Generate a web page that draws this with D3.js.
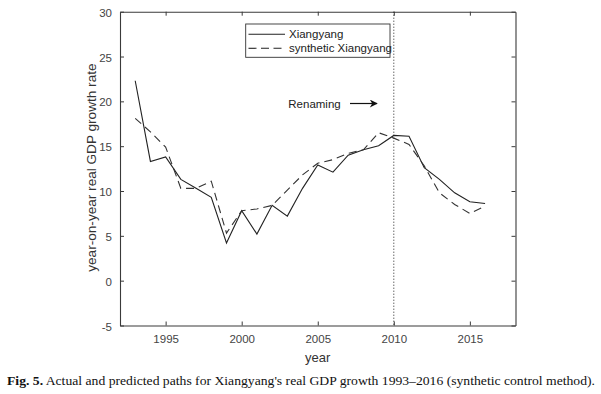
<!DOCTYPE html>
<html><head><meta charset="utf-8">
<script src="https://cdn.jsdelivr.net/npm/d3@7"></script>
<style>body{margin:0;background:#fff}svg{display:block}</style>
</head><body>
<svg id="c" width="601" height="394"></svg>
<script>
const years = [1993,1994,1995,1996,1997,1998,1999,2000,2001,2002,2003,2004,2005,2006,2007,2008,2009,2010,2011,2012,2013,2014,2015,2016];
const actual = [22.3,13.3,13.8,11.3,10.3,9.3,4.2,7.8,5.2,8.4,7.2,10.3,12.9,12.1,14.0,14.6,15.05,16.2,16.1,12.6,11.3,9.8,8.8,8.6];
const synthetic = [18.1,16.6,14.9,10.3,10.3,11.1,5.3,7.8,8.0,8.4,10.1,11.8,13.1,13.5,14.2,14.6,16.5,15.9,15.2,12.8,9.8,8.5,7.5,8.3];
const xTicks = [1995,2000,2005,2010,2015];
const yTicks = [-5,0,5,10,15,20,25,30];
const seriesNames = ["Xiangyang","synthetic Xiangyang"];
const treatYear = 2010;

const svg = d3.select("#c");
const L=120, R=515.5, T=11.7, B=325.5;
const x = d3.scaleLinear().domain([1992,2018]).range([L,R]);
const y = d3.scaleLinear().domain([-5,30]).range([B,T]);
const axisCol = "#3a3a3a", font = "Liberation Sans, Arial, sans-serif";

// axes (box with inward ticks)
const gB = svg.append("g").attr("transform",`translate(0,${B})`)
  .call(d3.axisBottom(x).tickValues(xTicks).tickFormat(d3.format("d")).tickSizeInner(-4).tickSizeOuter(0).tickPadding(9));
const gT = svg.append("g").attr("transform",`translate(0,${T})`)
  .call(d3.axisTop(x).tickValues(xTicks).tickFormat("").tickSizeInner(-4).tickSizeOuter(0));
const gL = svg.append("g").attr("transform",`translate(${L},0)`)
  .call(d3.axisLeft(y).tickValues(yTicks).tickFormat(d=>String(d)).tickSizeInner(-4).tickSizeOuter(0).tickPadding(8));
const gR = svg.append("g").attr("transform",`translate(${R},0)`)
  .call(d3.axisRight(y).tickValues(yTicks).tickFormat("").tickSizeInner(-4).tickSizeOuter(0));
[gB,gT,gL,gR].forEach(g=>{
  g.selectAll(".domain").attr("stroke",axisCol).attr("stroke-width",1.1);
  g.selectAll(".tick line").attr("stroke",axisCol);
  g.selectAll("text").attr("fill","#444").attr("font-family",font).attr("font-size",11.5);
});
gL.selectAll("text").attr("dy","0.4em");

// treatment line
svg.append("line").attr("x1",x(treatYear)).attr("x2",x(treatYear)).attr("y1",T).attr("y2",B)
  .attr("stroke","#222").attr("stroke-width",1).attr("stroke-dasharray","1,2");

const line = d3.line().x((d,i)=>x(years[i])).y(d=>y(d));
svg.append("path").datum(actual).attr("d",line).attr("fill","none").attr("stroke","#222").attr("stroke-width",1.1);
svg.append("path").datum(synthetic).attr("d",line).attr("fill","none").attr("stroke","#333").attr("stroke-width",1.1).attr("stroke-dasharray","8,5");

// legend
const lg = svg.append("g");
lg.append("rect").attr("x",245.7).attr("y",24).attr("width",144.3).attr("height",33.3).attr("fill","#fff").attr("stroke","#333").attr("stroke-width",0.9);
[0,1].forEach(i=>{
  const yy = 34.3 + i*14;
  lg.append("line").attr("x1",248.5).attr("x2",285).attr("y1",yy).attr("y2",yy).attr("stroke","#222").attr("stroke-width",1.1)
    .attr("stroke-dasharray", i? "8,4.5":null);
  lg.append("text").attr("x",289).attr("y",yy).attr("dy","0.35em").attr("font-family",font).attr("font-size",11.5).attr("fill","#222").text(seriesNames[i]);
});

// annotation
svg.append("text").attr("x",288.3).attr("y",104).attr("dy","0.35em").attr("font-family",font).attr("font-size",11.5).attr("fill","#222").text("Renaming");
svg.append("defs").append("marker").attr("id","ah").attr("viewBox","0 0 10 10").attr("refX",9).attr("refY",5)
  .attr("markerWidth",10).attr("markerHeight",8).attr("markerUnits","userSpaceOnUse").attr("orient","auto")
  .append("path").attr("d","M0,0 L10,5 L0,10 L3,5 Z").attr("fill","#111");
svg.append("line").attr("x1",350).attr("x2",377).attr("y1",103.5).attr("y2",103.5).attr("stroke","#111").attr("stroke-width",1.2).attr("marker-end","url(#ah)");

// axis labels
svg.append("text").attr("x",(L+R)/2).attr("y",357).attr("dy","0.35em").attr("text-anchor","middle").attr("font-family",font).attr("font-size",13).attr("fill","#333").text("year");
svg.append("text").attr("transform",`translate(91,${(T+B)/2 - 1}) rotate(-90)`).attr("text-anchor","middle").attr("dy","0.35em")
  .attr("font-family",font).attr("font-size",13.6).attr("fill","#333").text("year-on-year real GDP growth rate");

// caption
const cap = svg.append("text").attr("x",7).attr("y",384.5).attr("font-family","Liberation Serif, Times New Roman, serif").attr("font-size",12.6).attr("fill","#111")
  .attr("textLength",588).attr("lengthAdjust","spacingAndGlyphs");
cap.append("tspan").attr("font-weight","bold").text("Fig. 5.");
cap.append("tspan").text(" Actual and predicted paths for Xiangyang's real GDP growth 1993\u20132016 (synthetic control method).");
</script>
</body></html>
